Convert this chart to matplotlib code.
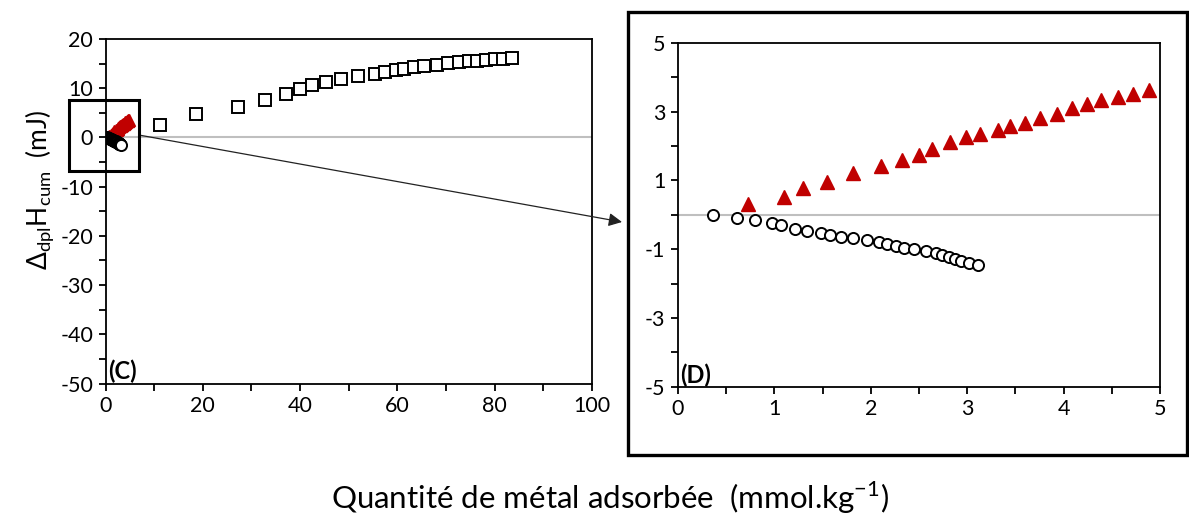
import matplotlib
matplotlib.use("Agg")
import matplotlib.pyplot as plt
from matplotlib.patches import Rectangle
from matplotlib.ticker import MultipleLocator

plt.rcParams['font.family'] = ['Lato', 'DejaVu Sans']
plt.rcParams['axes.unicode_minus'] = False
plt.rcParams['mathtext.fontset'] = 'custom'
plt.rcParams['mathtext.rm'] = 'Lato'

# squares (panel C)
sq_x = [11.2, 18.7, 27.2, 32.8, 37.0, 39.9, 42.5, 45.4, 48.4, 51.8, 55.3, 57.4, 59.7,
        61.3, 63.5, 65.4, 68.1, 70.5, 72.7, 74.7, 76.4, 78.2, 80.0, 81.7, 83.5]
sq_y = [2.5, 4.75, 6.24, 7.6, 8.9, 9.8, 10.6, 11.3, 11.9, 12.4, 12.9, 13.3, 13.6,
        13.9, 14.3, 14.5, 14.8, 15.1, 15.3, 15.5, 15.5, 15.7, 15.9, 15.9, 16.1]

# red triangles
tri_x = [0.73, 1.10, 1.30, 1.55, 1.82, 2.11, 2.32, 2.50, 2.64, 2.82, 2.99, 3.13,
         3.32, 3.44, 3.60, 3.76, 3.93, 4.09, 4.24, 4.39, 4.56, 4.72, 4.89]
tri_y = [0.31, 0.52, 0.77, 0.96, 1.22, 1.41, 1.59, 1.75, 1.90, 2.11, 2.27, 2.36,
         2.46, 2.58, 2.67, 2.80, 2.93, 3.09, 3.22, 3.33, 3.43, 3.52, 3.62]

# open circles
circ_x = [0.36, 0.61, 0.80, 0.97, 1.07, 1.21, 1.34, 1.48, 1.58, 1.69, 1.82, 1.96, 2.09,
          2.17, 2.26, 2.34, 2.45, 2.57, 2.68, 2.74, 2.81, 2.87, 2.94, 3.02, 3.11]
circ_y = [0.0, -0.09, -0.16, -0.23, -0.31, -0.41, -0.47, -0.52, -0.59, -0.65, -0.68,
          -0.74, -0.80, -0.86, -0.90, -0.96, -1.01, -1.05, -1.12, -1.18, -1.24, -1.29,
          -1.34, -1.40, -1.46]

red = '#C00000'
W, H = 1189, 517
fig = plt.figure(figsize=(W / 100, H / 100), dpi=100)

def px(x0, y0, x1, y1):
    return [x0 / W, 1 - y1 / H, (x1 - x0) / W, (y1 - y0) / H]

def style(ax):
    for s in ax.spines.values():
        s.set_linewidth(1.3)
    ax.tick_params(which='both', direction='out', length=5, width=1.3, labelsize=15.5,
                   color='black')
    ax.tick_params(which='major', pad=4)

# panel C
axc = fig.add_axes(px(105.5, 39, 592, 383.5))
axc.axhline(0, color='#BFBFBF', lw=1.5, zorder=1)
axc.plot(sq_x, sq_y, ls='none', marker='s', ms=8.5, mfc='white', mec='black', mew=1.4)
axc.plot(tri_x, tri_y, ls='none', marker='^', ms=8, color=red)
axc.plot(circ_x, circ_y, ls='none', marker='o', ms=8, mfc='white', mec='black', mew=1.4)
axc.set_xlim(0, 100)
axc.set_ylim(-50, 20)
axc.xaxis.set_major_locator(MultipleLocator(20))
axc.xaxis.set_minor_locator(MultipleLocator(10))
axc.yaxis.set_major_locator(MultipleLocator(10))
axc.yaxis.set_minor_locator(MultipleLocator(5))
style(axc)
axc.text(0.006, 0.0, '(C)', transform=axc.transAxes, fontsize=17, fontweight='bold',
         ha='left', va='bottom')
axc.add_patch(Rectangle((-7.4, -6.8), 14.2, 14.5, fill=False, ec='black', lw=2.2,
                        clip_on=False, zorder=5))

# panel D
axd = fig.add_axes(px(678, 42.7, 1160, 386.7))
axd.axhline(0, color='#BFBFBF', lw=1.5, zorder=1)
axd.plot(tri_x, tri_y, ls='none', marker='^', ms=9.5, color=red)
axd.plot(circ_x, circ_y, ls='none', marker='o', ms=8, mfc='white', mec='black', mew=1.4)
axd.set_xlim(0, 5)
axd.set_ylim(-5, 5)
axd.set_yticks([-5, -3, -1, 1, 3, 5])
axd.xaxis.set_major_locator(MultipleLocator(1))
axd.xaxis.set_minor_locator(MultipleLocator(0.5))
axd.yaxis.set_minor_locator(MultipleLocator(1))
style(axd)
axd.text(0.004, 0.0, '(D)', transform=axd.transAxes, fontsize=17, fontweight='bold',
         ha='left', va='bottom')

# frame around panel D
fig.patches.append(Rectangle((628 / W, 1 - 455 / H), (1187 - 628) / W, (455 - 12) / H,
                             transform=fig.transFigure, fill=False, ec='black', lw=2.4))

# zoom arrow
axc.annotate('', xy=(622 / W, 1 - 222 / H), xycoords='figure fraction',
             xytext=(6.8, 0.5), textcoords='data',
             arrowprops=dict(arrowstyle='-|>', color='#222222', lw=0.9,
                             mutation_scale=20, shrinkA=0, shrinkB=0),
             annotation_clip=False)

fig.text(40 / W, 1 - 190 / H, r'$\Delta_{\mathrm{dpl}}\mathrm{H}_{\mathrm{cum}}$  (mJ)',
         rotation=90, ha='center', va='center', fontsize=19)
fig.text(610 / W, 1 - 498 / H, 'Quantité de métal adsorbée  (mmol.kg$^{\\mathrm{-1}}$)',
         ha='center', va='center', fontsize=22.5)

fig.savefig('out.png', dpi=100)
